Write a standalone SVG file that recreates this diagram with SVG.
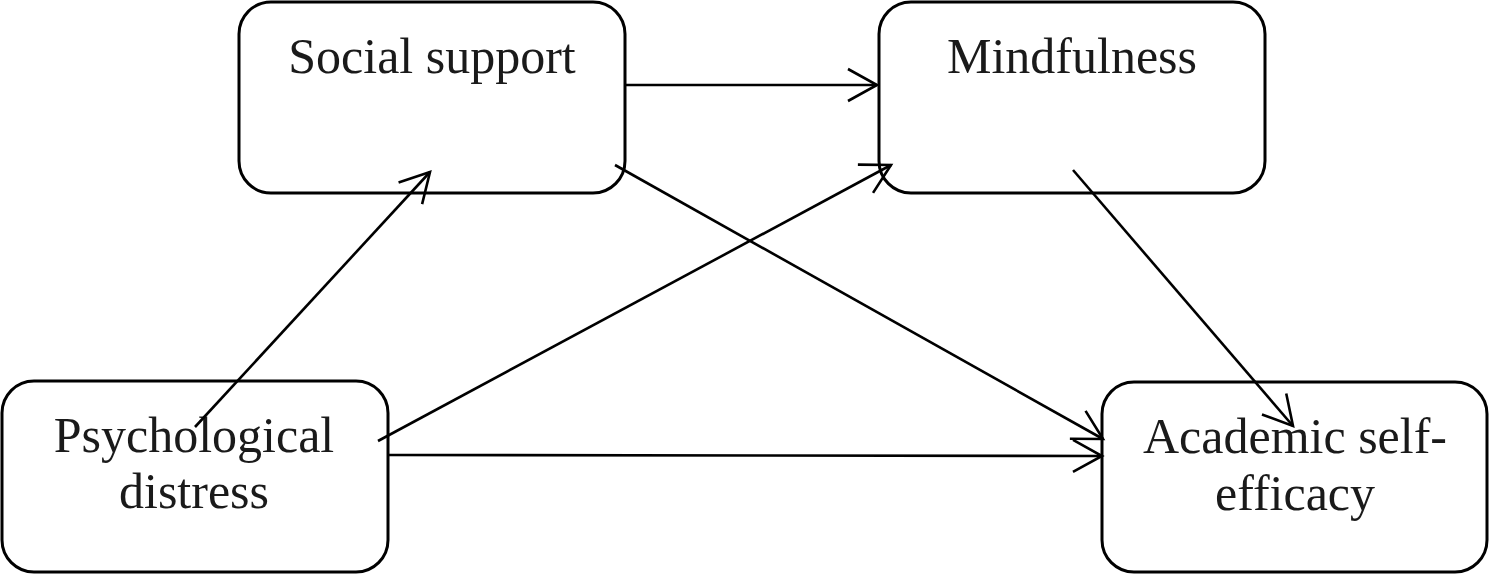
<svg xmlns="http://www.w3.org/2000/svg" width="1489" height="576" viewBox="0 0 1489 576">
<style>
.box{fill:#fff;stroke:#000;stroke-width:3}
.lbl{font-family:"Liberation Serif","Times New Roman",serif;font-size:50px;fill:#1a1a1a;text-anchor:middle}
.conn{stroke:#000;stroke-width:2.6;fill:none;marker-end:url(#arr)}
</style>
<defs>
<marker id="arr" viewBox="0 0 34 36" refX="31" refY="18" markerWidth="34" markerHeight="36" markerUnits="userSpaceOnUse" orient="auto">
<path d="M2,2 L31,18 L2,34" fill="none" stroke="#000" stroke-width="2.6"/>
</marker>
</defs>
<rect width="1489" height="576" fill="#fff"/>
<g id="social-support">
<rect class="box" x="239" y="2" width="386" height="191" rx="32"/>
<text class="lbl" x="432" y="73">Social support</text>
</g>
<g id="mindfulness">
<rect class="box" x="879" y="2" width="386" height="191" rx="32"/>
<text class="lbl" x="1072" y="73">Mindfulness</text>
</g>
<g id="psychological-distress">
<rect class="box" x="2" y="381" width="386" height="191" rx="32"/>
<text class="lbl" x="194" y="452">Psychological</text>
<text class="lbl" x="194" y="508">distress</text>
</g>
<g id="academic-self-efficacy">
<rect class="box" x="1102" y="382" width="385" height="190" rx="32"/>
<text class="lbl" x="1295" y="453">Academic self-</text>
<text class="lbl" x="1295" y="510">efficacy</text>
</g>
<g id="connectors">
<line class="conn" x1="195" y1="427" x2="430" y2="172"/>
<line class="conn" x1="625" y1="85" x2="877" y2="85"/>
<line class="conn" x1="378" y1="441" x2="891" y2="165"/>
<line class="conn" x1="615" y1="165" x2="1103" y2="439"/>
<line class="conn" x1="388" y1="455" x2="1102" y2="456"/>
<line class="conn" x1="1073" y1="170" x2="1293" y2="426"/>
</g>
</svg>
